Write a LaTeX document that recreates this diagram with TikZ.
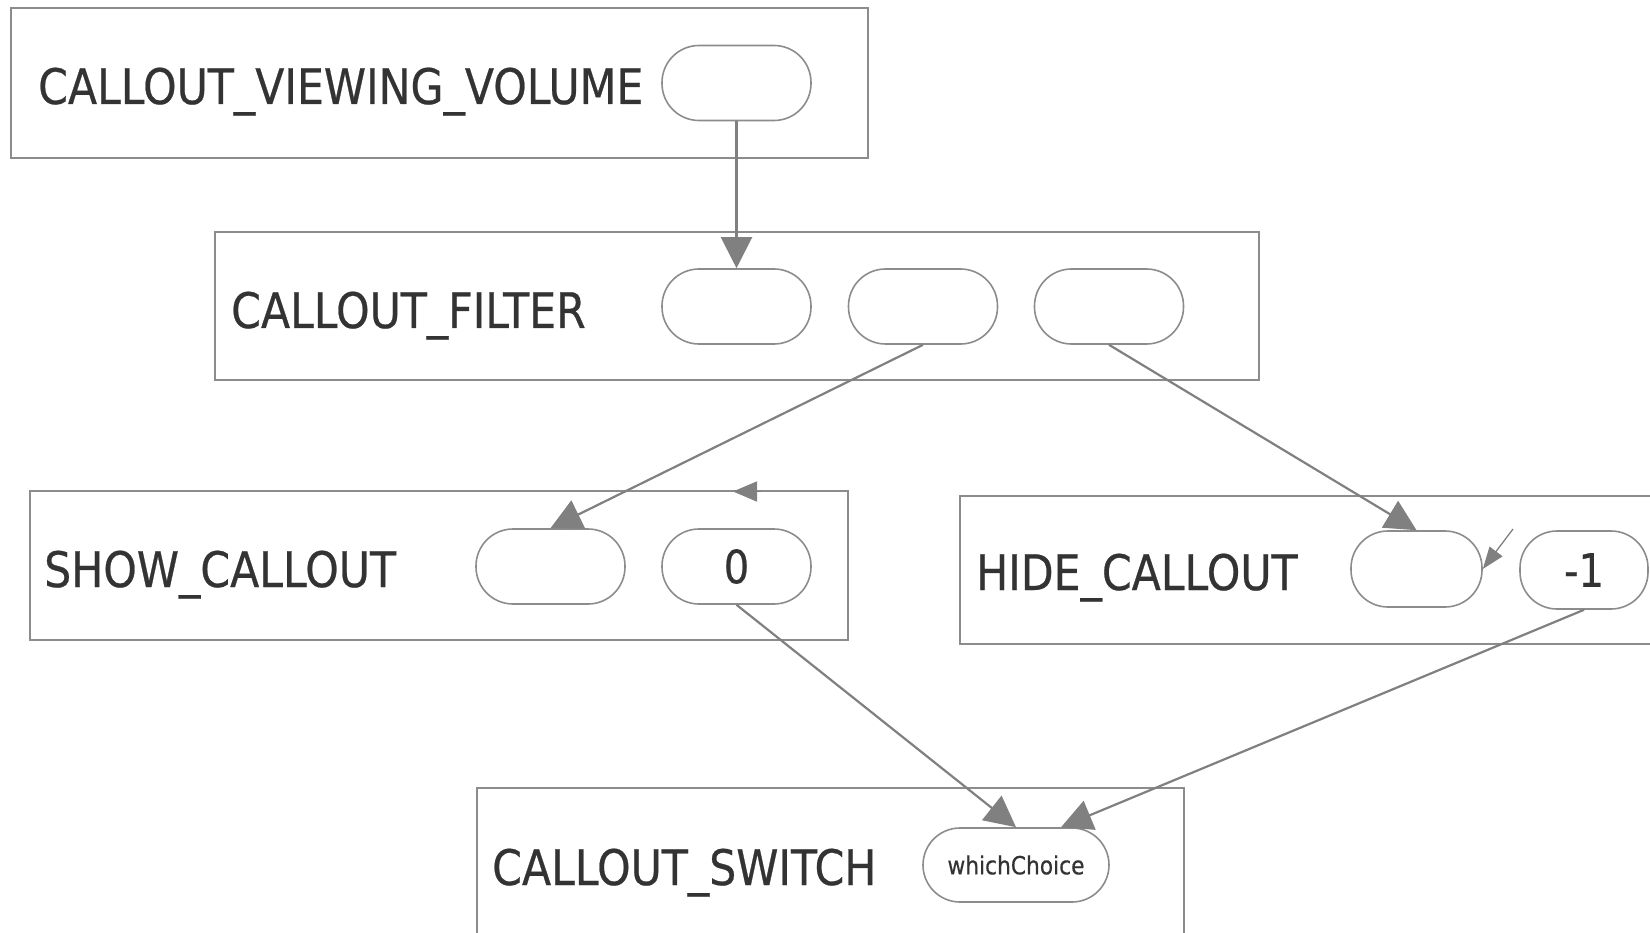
\documentclass[tikz,border=0pt]{standalone}
\usepackage{fontspec}
\setmainfont[FakeStretch=0.87,FakeBold=0.5]{DejaVu Sans}
\usetikzlibrary{arrows.meta,calc}

\definecolor{edgegray}{HTML}{808080}
\definecolor{boxgray}{HTML}{8C8C8C}
\definecolor{inkgray}{HTML}{333333}

\tikzset{
  grp/.style n args={2}{draw=boxgray, line width=2pt, rectangle,
    minimum width=#1, minimum height=#2, inner sep=0pt},
  pill/.style={draw=boxgray, line width=1.6pt, rectangle, rounded corners=37pt,
    minimum width=149pt, minimum height=75pt, inner sep=0pt,
    font=\fontsize{46}{56}\selectfont, text=inkgray},
  title/.style={anchor=base west, inner sep=0pt,
    font=\fontsize{49}{60}\selectfont, text=inkgray},
  link/.style={draw=edgegray, line width=2.2pt,
    -{Triangle[length=31pt,width=31pt]}},
  tick/.style={draw=edgegray, line width=1.6pt,
    -{Triangle[length=24pt,width=20pt]}}
}

\begin{document}
\begin{tikzpicture}[x=1pt,y=-1pt]
\useasboundingbox (0,0) rectangle (1650,933);
\fill[white] (0,0) rectangle (1650,933);
\clip (0,0) rectangle (1650,933);

% group frames
\node[grp={857pt}{150pt}]  (vvbox)  at (439.5,83.5)  {};
\node[grp={1044pt}{148pt}] (fbox)   at (737,306)     {};
\node[grp={818pt}{149pt}]  (sbox)   at (439,565.5)   {};
\node[grp={730pt}{148pt}]  (hbox)   at (1325,569.5)  {};
\node[grp={707pt}{150pt}]  (swbox)  at (830.5,863)   {};

% group titles
\node[title] (vvt) at (38,104)  {CALLOUT\_VIEWING\_VOLUME};
\node[title] (ft)  at (231,328) {CALLOUT\_FILTER};
\node[title] (st)  at (44,587)  {SHOW\_CALLOUT};
\node[title] (ht)  at (976,590) {HIDE\_CALLOUT};
\node[title] (swt) at (492,885) {CALLOUT\_SWITCH};

% ports
\node[pill] (vv)  at (736.5,83)   {};
\node[pill] (f1)  at (736.5,306.5) {};
\node[pill] (f2)  at (923,306.5)   {};
\node[pill] (f3)  at (1109,306.5)  {};
\node[pill] (s1)  at (550.5,566.5) {};
\node[pill] (s0)  at (736.5,566.5) {0};
\node[pill, minimum width=131pt, minimum height=76pt] (h1)  at (1416.5,569) {};
\node[pill, minimum width=128pt, minimum height=78pt] (hm1) at (1584,570)   {-1};
\node[pill, minimum width=186pt, minimum height=74pt,
      font=\fontsize{25}{30}\selectfont] (wc) at (1016,865) {whichChoice};

% routes
\draw[link] (vv.south)  -- (f1.north);
\draw[link] (f2.south)  -- (s1.north);
\draw[link] (f3.south)  -- (h1.north);
\draw[link] (s0.south)  -- (wc.north);
\draw[link] (hm1.south) -- (wc.40);

% short marks
\coordinate (tagtail) at (762,491.5);
\coordinate (taghead) at (733,491.5);
\draw[tick] (tagtail) -- (taghead);
\coordinate (nubtail) at (1513,529);
\draw[tick, line width=1.3pt, -{Triangle[length=22pt,width=16pt]}] (nubtail) -- (h1.east);
\end{tikzpicture}
\end{document}
